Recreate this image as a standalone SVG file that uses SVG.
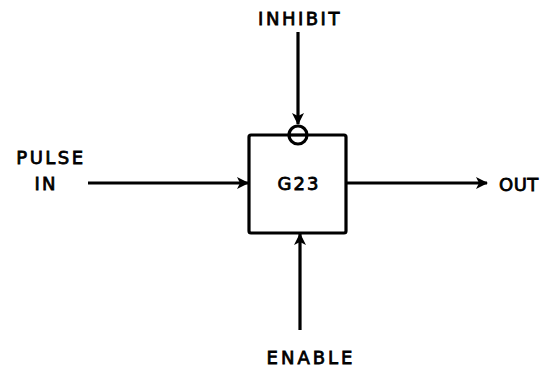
<svg xmlns="http://www.w3.org/2000/svg" width="543" height="370" viewBox="0 0 543 370">
<style>
.t{font-family:"DejaVu Sans","Liberation Sans",sans-serif;font-size:18px;fill:#000;stroke:#000;stroke-width:0.8}
.c{stroke:#000;stroke-width:3.2;fill:none}
</style>
<defs>
<marker id="ah" viewBox="0 0 12 12" refX="11" refY="6" markerWidth="12" markerHeight="12" markerUnits="userSpaceOnUse" orient="auto">
<path d="M0,0 L12,6 L0,12 L3,6 Z" fill="#000"/>
</marker>
</defs>
<rect width="543" height="370" fill="#fff"/>
<g id="gate">
<rect x="249" y="135" width="97" height="98" rx="2" fill="#fff" stroke="#000" stroke-width="3.2"/>
<circle cx="298" cy="135" r="9" fill="#fff" stroke="#000" stroke-width="3.2"/>
<line x1="289" y1="135" x2="307" y2="135" stroke="#000" stroke-width="3.2"/>
<text class="t" x="299" y="190" text-anchor="middle" letter-spacing="2">G23</text>
</g>
<g id="inhibit"><text class="t" x="300" y="25" text-anchor="middle" letter-spacing="2.5">INHIBIT</text></g>
<g id="pulse-in"><text class="t" x="51" y="164" text-anchor="middle" letter-spacing="2.5">PULSE</text><text class="t" x="46" y="190" text-anchor="middle" letter-spacing="2">IN</text></g>
<g id="out"><text class="t" x="499" y="191" letter-spacing="0.5">OUT</text></g>
<g id="enable"><text class="t" x="311" y="364" text-anchor="middle" letter-spacing="3">ENABLE</text></g>
<g id="connectors">
<line class="c" x1="298" y1="32" x2="298" y2="124" marker-end="url(#ah)"/>
<line class="c" x1="88" y1="183" x2="248" y2="183" marker-end="url(#ah)"/>
<line class="c" x1="346" y1="183" x2="487" y2="183" marker-end="url(#ah)"/>
<line class="c" x1="300" y1="330" x2="300" y2="234" marker-end="url(#ah)"/>
</g>
</svg>
